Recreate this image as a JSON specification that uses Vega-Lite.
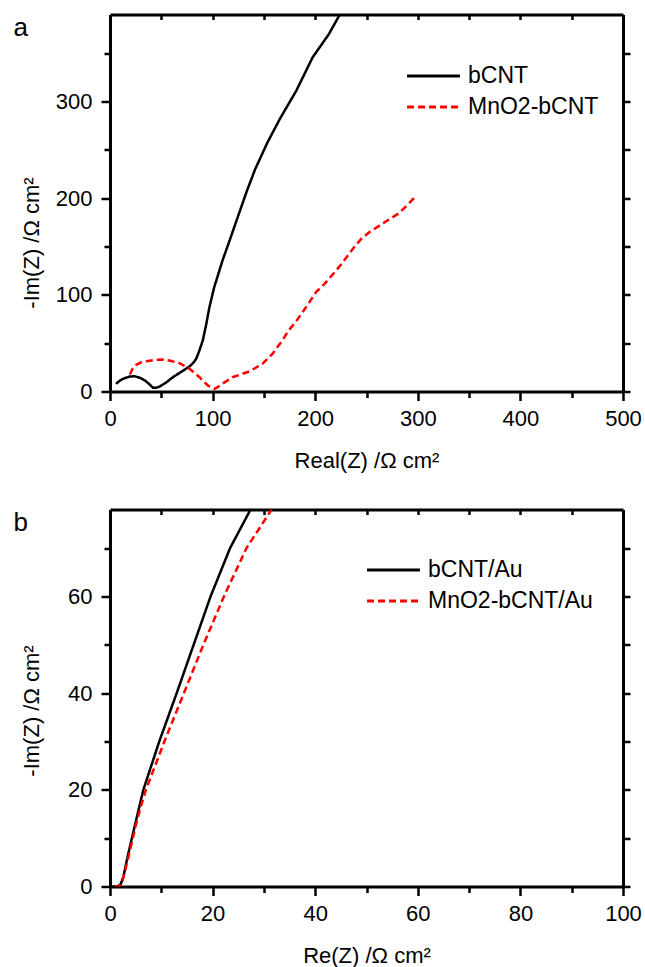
{
  "$schema": "https://vega.github.io/schema/vega-lite/v6.json",
  "autosize": {"type": "pad"},
  "padding": {"left": 13, "top": 12.5, "right": 5, "bottom": 3},
  "background": "white",
  "config": {
    "font": "Liberation Sans",
    "view": {"stroke": null},
    "axis": {
      "grid": false,
      "domainColor": "black",
      "domainWidth": 3,
      "tickColor": "black",
      "tickWidth": 2.5,
      "labelFontSize": 22,
      "labelColor": "black",
      "labelFont": "Liberation Sans",
      "titleFont": "Liberation Sans",
      "titleFontSize": 22,
      "titleFontWeight": "normal",
      "titleColor": "black",
      "labelFlush": false,
      "labelOverlap": false
    },
    "legend": {
      "labelFont": "Liberation Sans",
      "labelFontSize": 23,
      "labelColor": "black",
      "labelLimit": 400,
      "symbolType": "M-5,0H5",
      "symbolSize": 112,
      "symbolStrokeWidth": 3,
      "labelOffset": 23,
      "rowPadding": 7,
      "padding": 0,
      "orient": "none"
    }
  },
  "datasets": {
    "a": [
      {"series": "bCNT", "x": 5.8, "y": 8},
      {"series": "bCNT", "x": 10, "y": 11.5},
      {"series": "bCNT", "x": 13.6, "y": 13.5},
      {"series": "bCNT", "x": 19.4, "y": 15.5},
      {"series": "bCNT", "x": 24, "y": 15.8},
      {"series": "bCNT", "x": 29.1, "y": 14.2},
      {"series": "bCNT", "x": 34, "y": 11.5},
      {"series": "bCNT", "x": 38.4, "y": 7.5},
      {"series": "bCNT", "x": 42, "y": 3.8},
      {"series": "bCNT", "x": 45, "y": 3.8},
      {"series": "bCNT", "x": 48.5, "y": 5.2},
      {"series": "bCNT", "x": 55, "y": 9.5},
      {"series": "bCNT", "x": 61.3, "y": 14.8},
      {"series": "bCNT", "x": 69.5, "y": 20.4},
      {"series": "bCNT", "x": 77.5, "y": 25.9},
      {"series": "bCNT", "x": 81.5, "y": 30},
      {"series": "bCNT", "x": 84, "y": 33.8},
      {"series": "bCNT", "x": 87, "y": 42},
      {"series": "bCNT", "x": 90.4, "y": 52.7},
      {"series": "bCNT", "x": 93.5, "y": 68},
      {"series": "bCNT", "x": 96.9, "y": 87.2},
      {"series": "bCNT", "x": 101.5, "y": 107.6},
      {"series": "bCNT", "x": 109.5, "y": 135},
      {"series": "bCNT", "x": 117.5, "y": 159},
      {"series": "bCNT", "x": 125.5, "y": 183.5},
      {"series": "bCNT", "x": 133.5, "y": 207.7},
      {"series": "bCNT", "x": 141.5, "y": 230},
      {"series": "bCNT", "x": 153.5, "y": 257.7},
      {"series": "bCNT", "x": 165.5, "y": 281.9},
      {"series": "bCNT", "x": 181.5, "y": 311},
      {"series": "bCNT", "x": 197.5, "y": 345.7},
      {"series": "bCNT", "x": 213.4, "y": 369.8},
      {"series": "bCNT", "x": 224, "y": 390},
      {"series": "MnO2-bCNT", "x": 19.4, "y": 17.6},
      {"series": "MnO2-bCNT", "x": 22, "y": 23.5},
      {"series": "MnO2-bCNT", "x": 25.9, "y": 27.9},
      {"series": "MnO2-bCNT", "x": 30, "y": 30},
      {"series": "MnO2-bCNT", "x": 35.5, "y": 31.3},
      {"series": "MnO2-bCNT", "x": 45.2, "y": 32.8},
      {"series": "MnO2-bCNT", "x": 52, "y": 33},
      {"series": "MnO2-bCNT", "x": 58.1, "y": 32},
      {"series": "MnO2-bCNT", "x": 67.8, "y": 29.3},
      {"series": "MnO2-bCNT", "x": 77.5, "y": 23.5},
      {"series": "MnO2-bCNT", "x": 87.2, "y": 14.8},
      {"series": "MnO2-bCNT", "x": 95.3, "y": 6.2},
      {"series": "MnO2-bCNT", "x": 101.7, "y": 2.8},
      {"series": "MnO2-bCNT", "x": 105, "y": 4.5},
      {"series": "MnO2-bCNT", "x": 108.2, "y": 7.2},
      {"series": "MnO2-bCNT", "x": 119.5, "y": 14.8},
      {"series": "MnO2-bCNT", "x": 135.7, "y": 20.7},
      {"series": "MnO2-bCNT", "x": 148.6, "y": 28.6},
      {"series": "MnO2-bCNT", "x": 158.3, "y": 38.9},
      {"series": "MnO2-bCNT", "x": 167.9, "y": 52.7},
      {"series": "MnO2-bCNT", "x": 174, "y": 63},
      {"series": "MnO2-bCNT", "x": 181, "y": 72},
      {"series": "MnO2-bCNT", "x": 189, "y": 84},
      {"series": "MnO2-bCNT", "x": 196, "y": 95},
      {"series": "MnO2-bCNT", "x": 201, "y": 103},
      {"series": "MnO2-bCNT", "x": 207, "y": 109},
      {"series": "MnO2-bCNT", "x": 213, "y": 116},
      {"series": "MnO2-bCNT", "x": 225, "y": 131},
      {"series": "MnO2-bCNT", "x": 237, "y": 148},
      {"series": "MnO2-bCNT", "x": 245, "y": 158},
      {"series": "MnO2-bCNT", "x": 253, "y": 165},
      {"series": "MnO2-bCNT", "x": 269, "y": 176},
      {"series": "MnO2-bCNT", "x": 281, "y": 184},
      {"series": "MnO2-bCNT", "x": 290, "y": 193},
      {"series": "MnO2-bCNT", "x": 297, "y": 201}
    ],
    "b": [
      {"series": "bCNT/Au", "x": 0.5, "y": 0},
      {"series": "bCNT/Au", "x": 1.5, "y": 0},
      {"series": "bCNT/Au", "x": 2.1, "y": 0.5},
      {"series": "bCNT/Au", "x": 2.6, "y": 2},
      {"series": "bCNT/Au", "x": 3.5, "y": 6.5},
      {"series": "bCNT/Au", "x": 4.6, "y": 11.5},
      {"series": "bCNT/Au", "x": 5.6, "y": 16},
      {"series": "bCNT/Au", "x": 6.5, "y": 20},
      {"series": "bCNT/Au", "x": 9.6, "y": 30},
      {"series": "bCNT/Au", "x": 13, "y": 40},
      {"series": "bCNT/Au", "x": 16.3, "y": 50},
      {"series": "bCNT/Au", "x": 19.6, "y": 60},
      {"series": "bCNT/Au", "x": 23.4, "y": 70},
      {"series": "bCNT/Au", "x": 27.4, "y": 78},
      {"series": "MnO2-bCNT/Au", "x": 0.9, "y": 0},
      {"series": "MnO2-bCNT/Au", "x": 1.8, "y": 0},
      {"series": "MnO2-bCNT/Au", "x": 2.4, "y": 1},
      {"series": "MnO2-bCNT/Au", "x": 3, "y": 3.5},
      {"series": "MnO2-bCNT/Au", "x": 3.9, "y": 7.5},
      {"series": "MnO2-bCNT/Au", "x": 5, "y": 12.5},
      {"series": "MnO2-bCNT/Au", "x": 6, "y": 16.5},
      {"series": "MnO2-bCNT/Au", "x": 7, "y": 20},
      {"series": "MnO2-bCNT/Au", "x": 10.6, "y": 30},
      {"series": "MnO2-bCNT/Au", "x": 14.4, "y": 40},
      {"series": "MnO2-bCNT/Au", "x": 18.2, "y": 50},
      {"series": "MnO2-bCNT/Au", "x": 22.2, "y": 60},
      {"series": "MnO2-bCNT/Au", "x": 26.6, "y": 70},
      {"series": "MnO2-bCNT/Au", "x": 31.5, "y": 78}
    ]
  },
  "bounds": "flush",
  "spacing": 118,
  "resolve": {
    "scale": {"x": "independent", "y": "independent", "color": "independent", "strokeDash": "independent"},
    "legend": {"color": "independent", "strokeDash": "independent"}
  },
  "vconcat": [
    {
      "width": 513,
      "height": 377,
      "data": {"name": "a"},
      "layer": [
        {
          "mark": {"type": "line", "strokeWidth": 2.5, "clip": true},
          "encoding": {
            "x": {"field": "x", "type": "quantitative", "scale": {"domain": [0, 500], "nice": false, "zero": false},
              "axis": {"orient": "bottom", "values": [0, 100, 200, 300, 400, 500], "tickSize": 9, "labelPadding": 8, "title": "Real(Z) /Ω cm²", "titleY": 76, "titleBaseline": "alphabetic"}},
            "y": {"field": "y", "type": "quantitative", "scale": {"domain": [0, 390], "nice": false, "zero": false},
              "axis": {"orient": "left", "values": [0, 100, 200, 300], "tickSize": 9, "labelPadding": 9, "title": "-Im(Z) /Ω cm²", "titleX": -79, "titleY": 228, "titleBaseline": "middle", "titleAlign": "center"}},
            "color": {"field": "series", "type": "nominal", "scale": {"domain": ["bCNT", "MnO2-bCNT"], "range": ["#000000", "#ff0000"]},
              "legend": {"title": null, "legendX": 312, "legendY": 50}},
            "strokeDash": {"field": "series", "type": "nominal", "scale": {"domain": ["bCNT", "MnO2-bCNT"], "range": [[1, 0], [7, 4]]},
              "legend": {"title": null, "legendX": 312, "legendY": 50}}
          }
        },
        {
          "mark": {"type": "point", "opacity": 0, "size": 0},
          "encoding": {
            "x": {"field": "x", "type": "quantitative", "axis": {"orient": "top", "values": [0, 50, 100, 150, 200, 250, 300, 350, 400, 450, 500], "tickSize": -5, "labels": false, "title": "a", "titleX": -97, "titleY": 21, "titleAngle": 0, "titleAlign": "left", "titleBaseline": "alphabetic", "titleFontSize": 26}},
            "y": {"field": "y", "type": "quantitative", "axis": {"orient": "right", "values": [0, 50, 100, 150, 200, 250, 300, 350], "tickSize": 7, "labels": false, "title": null}}
          }
        },
        {
          "mark": {"type": "point", "opacity": 0, "size": 0},
          "encoding": {
            "x": {"field": "x", "type": "quantitative", "axis": {"orient": "bottom", "values": [50, 150, 250, 350, 450], "tickSize": 6, "labels": false, "title": null, "domain": false}},
            "y": {"field": "y", "type": "quantitative", "axis": {"orient": "left", "values": [50, 150, 250, 350], "tickSize": 6, "labels": false, "title": null, "domain": false}}
          }
        }
      ],
      "resolve": {"axis": {"x": "independent", "y": "independent"}}
    },
    {
      "width": 513,
      "height": 377,
      "data": {"name": "b"},
      "layer": [
        {
          "mark": {"type": "line", "strokeWidth": 2.5, "clip": true},
          "encoding": {
            "x": {"field": "x", "type": "quantitative", "scale": {"domain": [0, 100], "nice": false, "zero": false},
              "axis": {"orient": "bottom", "values": [0, 20, 40, 60, 80, 100], "tickSize": 9, "labelPadding": 8, "title": "Re(Z) /Ω cm²", "titleY": 76, "titleBaseline": "alphabetic"}},
            "y": {"field": "y", "type": "quantitative", "scale": {"domain": [0, 78], "nice": false, "zero": false},
              "axis": {"orient": "left", "values": [0, 20, 40, 60], "tickSize": 9, "labelPadding": 9, "title": "-Im(Z) /Ω cm²", "titleX": -79, "titleY": 201, "titleBaseline": "middle", "titleAlign": "center"}},
            "color": {"field": "series", "type": "nominal", "scale": {"domain": ["bCNT/Au", "MnO2-bCNT/Au"], "range": ["#000000", "#ff0000"]},
              "legend": {"title": null, "legendX": 272, "legendY": 49}},
            "strokeDash": {"field": "series", "type": "nominal", "scale": {"domain": ["bCNT/Au", "MnO2-bCNT/Au"], "range": [[1, 0], [7, 4]]},
              "legend": {"title": null, "legendX": 272, "legendY": 49}}
          }
        },
        {
          "mark": {"type": "point", "opacity": 0, "size": 0},
          "encoding": {
            "x": {"field": "x", "type": "quantitative", "axis": {"orient": "top", "values": [0, 10, 20, 30, 40, 50, 60, 70, 80, 90, 100], "tickSize": -5, "labels": false, "title": "b", "titleX": -97, "titleY": 21, "titleAngle": 0, "titleAlign": "left", "titleBaseline": "alphabetic", "titleFontSize": 26}},
            "y": {"field": "y", "type": "quantitative", "axis": {"orient": "right", "values": [0, 10, 20, 30, 40, 50, 60, 70], "tickSize": 7, "labels": false, "title": null}}
          }
        },
        {
          "mark": {"type": "point", "opacity": 0, "size": 0},
          "encoding": {
            "x": {"field": "x", "type": "quantitative", "axis": {"orient": "bottom", "values": [10, 30, 50, 70, 90], "tickSize": 6, "labels": false, "title": null, "domain": false}},
            "y": {"field": "y", "type": "quantitative", "axis": {"orient": "left", "values": [10, 30, 50, 70], "tickSize": 6, "labels": false, "title": null, "domain": false}}
          }
        }
      ],
      "resolve": {"axis": {"x": "independent", "y": "independent"}}
    }
  ]
}
